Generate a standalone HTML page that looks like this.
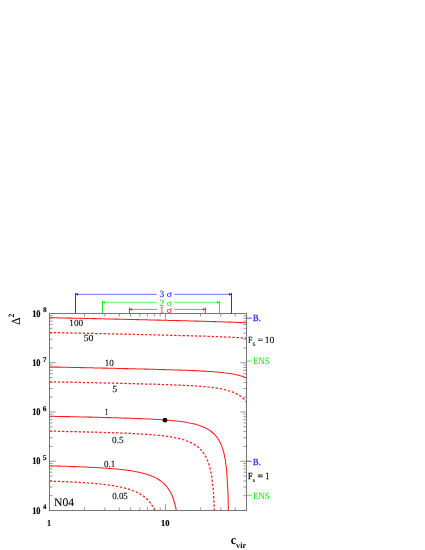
<!DOCTYPE html>
<html><head><meta charset="utf-8"><title>plot</title>
<style>html,body{margin:0;padding:0;background:#fff;width:425px;height:550px;overflow:hidden;font-family:"Liberation Serif",serif}</style>
</head><body>
<svg width="425" height="550" viewBox="0 0 425 550" style="position:absolute;left:0;top:0;will-change:transform;text-rendering:geometricPrecision">
<rect width="425" height="550" fill="#fff"/>
<path d="M84.42,510.50 v-3.10 M84.42,313.50 v3.10 M104.85,510.50 v-3.10 M104.85,313.50 v3.10 M119.34,510.50 v-3.10 M119.34,313.50 v3.10 M130.58,510.50 v-3.10 M130.58,313.50 v3.10 M139.77,510.50 v-3.10 M139.77,313.50 v3.10 M147.53,510.50 v-3.10 M147.53,313.50 v3.10 M154.26,510.50 v-3.10 M154.26,313.50 v3.10 M160.19,510.50 v-3.10 M160.19,313.50 v3.10 M165.50,510.50 v-6.20 M165.50,313.50 v6.20 M200.42,510.50 v-3.10 M200.42,313.50 v3.10 M220.85,510.50 v-3.10 M220.85,313.50 v3.10 M235.34,510.50 v-3.10 M235.34,313.50 v3.10 M246.58,510.50 v-3.10 M246.58,313.50 v3.10 M49.50,495.67 h3.10 M246.50,495.67 h-3.10 M49.50,487.00 h3.10 M246.50,487.00 h-3.10 M49.50,480.85 h3.10 M246.50,480.85 h-3.10 M49.50,476.08 h3.10 M246.50,476.08 h-3.10 M49.50,472.18 h3.10 M246.50,472.18 h-3.10 M49.50,468.88 h3.10 M246.50,468.88 h-3.10 M49.50,466.02 h3.10 M246.50,466.02 h-3.10 M49.50,463.50 h3.10 M246.50,463.50 h-3.10 M49.50,461.25 h6.20 M246.50,461.25 h-6.20 M49.50,446.42 h3.10 M246.50,446.42 h-3.10 M49.50,437.75 h3.10 M246.50,437.75 h-3.10 M49.50,431.60 h3.10 M246.50,431.60 h-3.10 M49.50,426.83 h3.10 M246.50,426.83 h-3.10 M49.50,422.93 h3.10 M246.50,422.93 h-3.10 M49.50,419.63 h3.10 M246.50,419.63 h-3.10 M49.50,416.77 h3.10 M246.50,416.77 h-3.10 M49.50,414.25 h3.10 M246.50,414.25 h-3.10 M49.50,412.00 h6.20 M246.50,412.00 h-6.20 M49.50,397.17 h3.10 M246.50,397.17 h-3.10 M49.50,388.50 h3.10 M246.50,388.50 h-3.10 M49.50,382.35 h3.10 M246.50,382.35 h-3.10 M49.50,377.58 h3.10 M246.50,377.58 h-3.10 M49.50,373.68 h3.10 M246.50,373.68 h-3.10 M49.50,370.38 h3.10 M246.50,370.38 h-3.10 M49.50,367.52 h3.10 M246.50,367.52 h-3.10 M49.50,365.00 h3.10 M246.50,365.00 h-3.10 M49.50,362.75 h6.20 M246.50,362.75 h-6.20 M49.50,347.92 h3.10 M246.50,347.92 h-3.10 M49.50,339.25 h3.10 M246.50,339.25 h-3.10 M49.50,333.10 h3.10 M246.50,333.10 h-3.10 M49.50,328.33 h3.10 M246.50,328.33 h-3.10 M49.50,324.43 h3.10 M246.50,324.43 h-3.10 M49.50,321.13 h3.10 M246.50,321.13 h-3.10 M49.50,318.27 h3.10 M246.50,318.27 h-3.10 M49.50,315.75 h3.10 M246.50,315.75 h-3.10" fill="none" stroke="#444" stroke-width="0.55"/>
<path d="M49.5,317.7 L50.7,317.7 L52.0,317.8 L53.2,317.8 L54.5,317.8 L55.7,317.8 L56.9,317.8 L58.2,317.9 L59.4,317.9 L60.7,317.9 L61.9,317.9 L63.1,318.0 L64.4,318.0 L65.6,318.0 L66.8,318.0 L68.1,318.1 L69.3,318.1 L70.6,318.1 L71.8,318.1 L73.0,318.2 L74.3,318.2 L75.5,318.2 L76.8,318.2 L78.0,318.3 L79.2,318.3 L80.5,318.3 L81.7,318.3 L83.0,318.4 L84.2,318.4 L85.4,318.4 L86.7,318.4 L87.9,318.5 L89.1,318.5 L90.4,318.5 L91.6,318.5 L92.9,318.6 L94.1,318.6 L95.3,318.6 L96.6,318.7 L97.8,318.7 L99.1,318.7 L100.3,318.7 L101.5,318.8 L102.8,318.8 L104.0,318.8 L105.3,318.9 L106.5,318.9 L107.7,318.9 L109.0,318.9 L110.2,319.0 L111.4,319.0 L112.7,319.0 L113.9,319.0 L115.2,319.1 L116.4,319.1 L117.6,319.1 L118.9,319.2 L120.1,319.2 L121.4,319.2 L122.6,319.2 L123.8,319.3 L125.1,319.3 L126.3,319.3 L127.6,319.4 L128.8,319.4 L130.0,319.4 L131.3,319.5 L132.5,319.5 L133.8,319.5 L135.0,319.5 L136.2,319.6 L137.5,319.6 L138.7,319.6 L139.9,319.7 L141.2,319.7 L142.4,319.7 L143.7,319.7 L144.9,319.8 L146.1,319.8 L147.4,319.8 L148.6,319.9 L149.9,319.9 L151.1,319.9 L152.3,320.0 L153.6,320.0 L154.8,320.0 L156.1,320.0 L157.3,320.1 L158.5,320.1 L159.8,320.1 L161.0,320.2 L162.2,320.2 L163.5,320.2 L164.7,320.3 L166.0,320.3 L167.2,320.3 L168.4,320.4 L169.7,320.4 L170.9,320.4 L172.2,320.4 L173.4,320.5 L174.6,320.5 L175.9,320.5 L177.1,320.6 L178.4,320.6 L179.6,320.6 L180.8,320.7 L182.1,320.7 L183.3,320.7 L184.6,320.8 L185.8,320.8 L187.0,320.8 L188.3,320.9 L189.5,320.9 L190.7,320.9 L192.0,321.0 L193.2,321.0 L194.5,321.0 L195.7,321.1 L196.9,321.1 L198.2,321.1 L199.4,321.2 L200.7,321.2 L201.9,321.2 L203.1,321.3 L204.4,321.3 L205.6,321.3 L206.9,321.4 L208.1,321.4 L209.3,321.4 L210.6,321.5 L211.8,321.5 L213.0,321.6 L214.3,321.6 L215.5,321.6 L216.8,321.7 L218.0,321.7 L219.2,321.7 L220.5,321.8 L221.7,321.8 L223.0,321.9 L224.2,321.9 L225.4,322.0 L226.7,322.0 L227.9,322.0 L229.2,322.1 L230.4,322.1 L231.6,322.2 L232.9,322.2 L234.1,322.3 L235.3,322.3 L236.6,322.4 L237.8,322.4 L239.1,322.5 L240.3,322.6 L241.5,322.6 L242.8,322.7 L244.0,322.7 L245.3,322.8 L246.5,322.9" fill="none" stroke="#ff1c1c" stroke-width="1.05"/>
<path d="M49.5,332.6 L50.7,332.6 L52.0,332.6 L53.2,332.6 L54.5,332.6 L55.7,332.6 L56.9,332.7 L58.2,332.7 L59.4,332.7 L60.7,332.7 L61.9,332.8 L63.1,332.8 L64.4,332.8 L65.6,332.8 L66.8,332.9 L68.1,332.9 L69.3,332.9 L70.6,332.9 L71.8,333.0 L73.0,333.0 L74.3,333.0 L75.5,333.0 L76.8,333.1 L78.0,333.1 L79.2,333.1 L80.5,333.1 L81.7,333.2 L83.0,333.2 L84.2,333.2 L85.4,333.2 L86.7,333.3 L87.9,333.3 L89.1,333.3 L90.4,333.3 L91.6,333.4 L92.9,333.4 L94.1,333.4 L95.3,333.5 L96.6,333.5 L97.8,333.5 L99.1,333.5 L100.3,333.6 L101.5,333.6 L102.8,333.6 L104.0,333.7 L105.3,333.7 L106.5,333.7 L107.7,333.7 L109.0,333.8 L110.2,333.8 L111.4,333.8 L112.7,333.8 L113.9,333.9 L115.2,333.9 L116.4,333.9 L117.6,334.0 L118.9,334.0 L120.1,334.0 L121.4,334.0 L122.6,334.1 L123.8,334.1 L125.1,334.1 L126.3,334.2 L127.6,334.2 L128.8,334.2 L130.0,334.3 L131.3,334.3 L132.5,334.3 L133.8,334.3 L135.0,334.4 L136.2,334.4 L137.5,334.4 L138.7,334.5 L139.9,334.5 L141.2,334.5 L142.4,334.5 L143.7,334.6 L144.9,334.6 L146.1,334.6 L147.4,334.7 L148.6,334.7 L149.9,334.7 L151.1,334.8 L152.3,334.8 L153.6,334.8 L154.8,334.9 L156.1,334.9 L157.3,334.9 L158.5,334.9 L159.8,335.0 L161.0,335.0 L162.2,335.0 L163.5,335.1 L164.7,335.1 L166.0,335.1 L167.2,335.2 L168.4,335.2 L169.7,335.2 L170.9,335.3 L172.2,335.3 L173.4,335.3 L174.6,335.4 L175.9,335.4 L177.1,335.4 L178.4,335.4 L179.6,335.5 L180.8,335.5 L182.1,335.5 L183.3,335.6 L184.6,335.6 L185.8,335.6 L187.0,335.7 L188.3,335.7 L189.5,335.8 L190.7,335.8 L192.0,335.8 L193.2,335.9 L194.5,335.9 L195.7,335.9 L196.9,336.0 L198.2,336.0 L199.4,336.0 L200.7,336.1 L201.9,336.1 L203.1,336.2 L204.4,336.2 L205.6,336.2 L206.9,336.3 L208.1,336.3 L209.3,336.3 L210.6,336.4 L211.8,336.4 L213.0,336.5 L214.3,336.5 L215.5,336.6 L216.8,336.6 L218.0,336.7 L219.2,336.7 L220.5,336.8 L221.7,336.8 L223.0,336.9 L224.2,336.9 L225.4,337.0 L226.7,337.0 L227.9,337.1 L229.2,337.1 L230.4,337.2 L231.6,337.3 L232.9,337.3 L234.1,337.4 L235.3,337.5 L236.6,337.5 L237.8,337.6 L239.1,337.7 L240.3,337.8 L241.5,337.9 L242.8,338.0 L244.0,338.1 L245.3,338.2 L246.5,338.3" fill="none" stroke="#ff1c1c" stroke-width="1.25" stroke-dasharray="2.4,1.76"/>
<path d="M49.5,367.0 L50.7,367.0 L52.0,367.0 L53.2,367.0 L54.5,367.1 L55.7,367.1 L56.9,367.1 L58.2,367.1 L59.4,367.1 L60.7,367.2 L61.9,367.2 L63.1,367.2 L64.4,367.2 L65.6,367.3 L66.8,367.3 L68.1,367.3 L69.3,367.3 L70.6,367.4 L71.8,367.4 L73.0,367.4 L74.3,367.4 L75.5,367.5 L76.8,367.5 L78.0,367.5 L79.2,367.5 L80.5,367.6 L81.7,367.6 L83.0,367.6 L84.2,367.6 L85.4,367.7 L86.7,367.7 L87.9,367.7 L89.1,367.8 L90.4,367.8 L91.6,367.8 L92.9,367.8 L94.1,367.9 L95.3,367.9 L96.6,367.9 L97.8,367.9 L99.1,368.0 L100.3,368.0 L101.5,368.0 L102.8,368.1 L104.0,368.1 L105.3,368.1 L106.5,368.1 L107.7,368.2 L109.0,368.2 L110.2,368.2 L111.4,368.3 L112.7,368.3 L113.9,368.3 L115.2,368.3 L116.4,368.4 L117.6,368.4 L118.9,368.4 L120.1,368.5 L121.4,368.5 L122.6,368.5 L123.8,368.6 L125.1,368.6 L126.3,368.6 L127.6,368.6 L128.8,368.7 L130.0,368.7 L131.3,368.7 L132.5,368.8 L133.8,368.8 L135.0,368.8 L136.2,368.9 L137.5,368.9 L138.7,368.9 L139.9,368.9 L141.2,369.0 L142.4,369.0 L143.7,369.0 L144.9,369.1 L146.1,369.1 L147.4,369.1 L148.6,369.2 L149.9,369.2 L151.1,369.2 L152.3,369.3 L153.6,369.3 L154.8,369.3 L156.1,369.4 L157.3,369.4 L158.5,369.4 L159.8,369.5 L161.0,369.5 L162.2,369.5 L163.5,369.6 L164.7,369.6 L166.0,369.7 L167.2,369.7 L168.4,369.7 L169.7,369.8 L170.9,369.8 L172.2,369.8 L173.4,369.9 L174.6,369.9 L175.9,370.0 L177.1,370.0 L178.4,370.0 L179.6,370.1 L180.8,370.1 L182.1,370.2 L183.3,370.2 L184.6,370.3 L185.8,370.3 L187.0,370.3 L188.3,370.4 L189.5,370.4 L190.7,370.5 L192.0,370.5 L193.2,370.6 L194.5,370.6 L195.7,370.7 L196.9,370.8 L198.2,370.8 L199.4,370.9 L200.7,370.9 L201.9,371.0 L203.1,371.1 L204.4,371.1 L205.6,371.2 L206.9,371.3 L208.1,371.4 L209.3,371.4 L210.6,371.5 L211.8,371.6 L213.0,371.7 L214.3,371.8 L215.5,371.9 L216.8,372.0 L218.0,372.1 L219.2,372.2 L220.5,372.4 L221.7,372.5 L223.0,372.6 L224.2,372.8 L225.4,372.9 L226.7,373.1 L227.9,373.2 L229.2,373.4 L230.4,373.6 L231.6,373.8 L232.9,374.1 L234.1,374.3 L235.3,374.5 L236.6,374.8 L237.8,375.1 L239.1,375.4 L240.3,375.8 L241.5,376.1 L242.8,376.5 L244.0,377.0 L245.3,377.5 L246.5,378.0" fill="none" stroke="#ff1c1c" stroke-width="1.05"/>
<path d="M49.5,381.8 L50.7,381.8 L52.0,381.8 L53.2,381.9 L54.5,381.9 L55.7,381.9 L56.9,381.9 L58.2,382.0 L59.4,382.0 L60.7,382.0 L61.9,382.0 L63.1,382.0 L64.4,382.1 L65.6,382.1 L66.8,382.1 L68.1,382.1 L69.3,382.2 L70.6,382.2 L71.8,382.2 L73.0,382.2 L74.3,382.3 L75.5,382.3 L76.8,382.3 L78.0,382.3 L79.2,382.4 L80.5,382.4 L81.7,382.4 L83.0,382.5 L84.2,382.5 L85.4,382.5 L86.7,382.5 L87.9,382.6 L89.1,382.6 L90.4,382.6 L91.6,382.6 L92.9,382.7 L94.1,382.7 L95.3,382.7 L96.6,382.8 L97.8,382.8 L99.1,382.8 L100.3,382.8 L101.5,382.9 L102.8,382.9 L104.0,382.9 L105.3,383.0 L106.5,383.0 L107.7,383.0 L109.0,383.0 L110.2,383.1 L111.4,383.1 L112.7,383.1 L113.9,383.2 L115.2,383.2 L116.4,383.2 L117.6,383.3 L118.9,383.3 L120.1,383.3 L121.4,383.3 L122.6,383.4 L123.8,383.4 L125.1,383.4 L126.3,383.5 L127.6,383.5 L128.8,383.5 L130.0,383.6 L131.3,383.6 L132.5,383.6 L133.8,383.7 L135.0,383.7 L136.2,383.7 L137.5,383.8 L138.7,383.8 L139.9,383.8 L141.2,383.9 L142.4,383.9 L143.7,383.9 L144.9,384.0 L146.1,384.0 L147.4,384.0 L148.6,384.1 L149.9,384.1 L151.1,384.1 L152.3,384.2 L153.6,384.2 L154.8,384.2 L156.1,384.3 L157.3,384.3 L158.5,384.4 L159.8,384.4 L161.0,384.4 L162.2,384.5 L163.5,384.5 L164.7,384.6 L166.0,384.6 L167.2,384.6 L168.4,384.7 L169.7,384.7 L170.9,384.8 L172.2,384.8 L173.4,384.9 L174.6,384.9 L175.9,385.0 L177.1,385.0 L178.4,385.1 L179.6,385.1 L180.8,385.2 L182.1,385.2 L183.3,385.3 L184.6,385.3 L185.8,385.4 L187.0,385.5 L188.3,385.5 L189.5,385.6 L190.7,385.7 L192.0,385.7 L193.2,385.8 L194.5,385.9 L195.7,386.0 L196.9,386.1 L198.2,386.1 L199.4,386.2 L200.7,386.3 L201.9,386.4 L203.1,386.5 L204.4,386.6 L205.6,386.8 L206.9,386.9 L208.1,387.0 L209.3,387.1 L210.6,387.3 L211.8,387.4 L213.0,387.6 L214.3,387.7 L215.5,387.9 L216.8,388.1 L218.0,388.3 L219.2,388.5 L220.5,388.7 L221.7,389.0 L223.0,389.2 L224.2,389.5 L225.4,389.8 L226.7,390.1 L227.9,390.5 L229.2,390.9 L230.4,391.3 L231.6,391.7 L232.9,392.2 L234.1,392.7 L235.3,393.2 L236.6,393.9 L237.8,394.5 L239.1,395.3 L240.3,396.1 L241.5,397.0 L242.8,398.0 L244.0,399.2 L245.3,400.5 L246.5,402.0" fill="none" stroke="#ff1c1c" stroke-width="1.25" stroke-dasharray="2.4,1.76"/>
<path d="M49.5,416.3 L50.7,416.3 L52.0,416.3 L53.2,416.3 L54.5,416.3 L55.7,416.4 L56.9,416.4 L58.2,416.4 L59.4,416.4 L60.7,416.5 L61.9,416.5 L63.1,416.5 L64.4,416.5 L65.6,416.6 L66.8,416.6 L68.1,416.6 L69.3,416.6 L70.6,416.7 L71.8,416.7 L73.0,416.7 L74.3,416.7 L75.5,416.8 L76.8,416.8 L78.0,416.8 L79.2,416.9 L80.5,416.9 L81.7,416.9 L83.0,416.9 L84.2,417.0 L85.4,417.0 L86.7,417.0 L87.9,417.1 L89.1,417.1 L90.4,417.1 L91.6,417.1 L92.9,417.2 L94.1,417.2 L95.3,417.2 L96.6,417.3 L97.8,417.3 L99.1,417.3 L100.3,417.4 L101.5,417.4 L102.8,417.4 L104.0,417.5 L105.3,417.5 L106.5,417.5 L107.7,417.6 L109.0,417.6 L110.2,417.6 L111.4,417.7 L112.7,417.7 L113.9,417.7 L115.2,417.8 L116.4,417.8 L117.6,417.8 L118.9,417.9 L120.1,417.9 L121.4,418.0 L122.6,418.0 L123.8,418.0 L125.1,418.1 L126.3,418.1 L127.6,418.2 L128.8,418.2 L130.0,418.2 L131.3,418.3 L132.5,418.3 L133.8,418.4 L135.0,418.4 L136.2,418.5 L137.5,418.5 L138.7,418.6 L139.9,418.6 L141.2,418.7 L142.4,418.7 L143.7,418.8 L144.9,418.8 L146.1,418.9 L147.4,418.9 L148.6,419.0 L149.9,419.0 L151.1,419.1 L152.3,419.2 L153.6,419.2 L154.8,419.3 L156.1,419.4 L157.3,419.4 L158.5,419.5 L159.8,419.6 L161.0,419.7 L162.2,419.8 L163.5,419.8 L164.7,419.9 L166.0,420.0 L167.2,420.1 L168.4,420.2 L169.7,420.3 L170.9,420.4 L172.2,420.5 L173.4,420.7 L174.6,420.8 L175.9,420.9 L177.1,421.1 L178.4,421.2 L179.6,421.3 L180.8,421.5 L182.1,421.7 L183.3,421.8 L184.6,422.0 L185.8,422.2 L187.0,422.4 L188.3,422.7 L189.5,422.9 L190.7,423.2 L192.0,423.4 L193.2,423.7 L194.5,424.0 L195.7,424.3 L196.9,424.7 L198.2,425.1 L199.4,425.5 L200.7,425.9 L201.9,426.4 L203.1,426.9 L204.4,427.4 L205.6,428.0 L206.9,428.7 L208.1,429.4 L209.3,430.1 L210.6,431.0 L211.8,432.0 L213.0,433.0 L214.3,434.2 L215.5,435.5 L216.8,437.1 L218.0,438.8 L219.2,440.8 L220.5,443.2 L221.7,446.1 L223.0,449.7 L224.2,454.3 L225.4,460.6 L226.7,470.4 L227.9,491.2 L228.0,493.1 L228.0,495.1 L228.1,497.4 L228.2,500.0 L228.2,503.0 L228.3,506.4 L228.3,510.5" fill="none" stroke="#ff1c1c" stroke-width="1.05"/>
<path d="M49.5,431.1 L50.7,431.1 L52.0,431.2 L53.2,431.2 L54.5,431.2 L55.7,431.2 L56.9,431.3 L58.2,431.3 L59.4,431.3 L60.7,431.3 L61.9,431.4 L63.1,431.4 L64.4,431.4 L65.6,431.4 L66.8,431.5 L68.1,431.5 L69.3,431.5 L70.6,431.6 L71.8,431.6 L73.0,431.6 L74.3,431.6 L75.5,431.7 L76.8,431.7 L78.0,431.7 L79.2,431.8 L80.5,431.8 L81.7,431.8 L83.0,431.9 L84.2,431.9 L85.4,431.9 L86.7,431.9 L87.9,432.0 L89.1,432.0 L90.4,432.0 L91.6,432.1 L92.9,432.1 L94.1,432.1 L95.3,432.2 L96.6,432.2 L97.8,432.3 L99.1,432.3 L100.3,432.3 L101.5,432.4 L102.8,432.4 L104.0,432.4 L105.3,432.5 L106.5,432.5 L107.7,432.6 L109.0,432.6 L110.2,432.6 L111.4,432.7 L112.7,432.7 L113.9,432.8 L115.2,432.8 L116.4,432.8 L117.6,432.9 L118.9,432.9 L120.1,433.0 L121.4,433.0 L122.6,433.1 L123.8,433.1 L125.1,433.2 L126.3,433.2 L127.6,433.3 L128.8,433.3 L130.0,433.4 L131.3,433.5 L132.5,433.5 L133.8,433.6 L135.0,433.6 L136.2,433.7 L137.5,433.8 L138.7,433.8 L139.9,433.9 L141.2,434.0 L142.4,434.0 L143.7,434.1 L144.9,434.2 L146.1,434.3 L147.4,434.4 L148.6,434.5 L149.9,434.5 L151.1,434.6 L152.3,434.7 L153.6,434.8 L154.8,435.0 L156.1,435.1 L157.3,435.2 L158.5,435.3 L159.8,435.4 L161.0,435.6 L162.2,435.7 L163.5,435.8 L164.7,436.0 L166.0,436.2 L167.2,436.3 L168.4,436.5 L169.7,436.7 L170.9,436.9 L172.2,437.1 L173.4,437.3 L174.6,437.6 L175.9,437.8 L177.1,438.1 L178.4,438.4 L179.6,438.7 L180.8,439.0 L182.1,439.3 L183.3,439.7 L184.6,440.1 L185.8,440.5 L187.0,441.0 L188.3,441.4 L189.5,442.0 L190.7,442.5 L192.0,443.2 L193.2,443.8 L194.5,444.6 L195.7,445.4 L196.9,446.3 L198.2,447.3 L199.4,448.4 L200.7,449.6 L201.9,451.0 L203.1,452.5 L204.4,454.3 L205.6,456.4 L206.9,458.9 L208.1,461.9 L209.3,465.5 L210.6,470.3 L211.8,476.9 L213.0,487.4 L213.2,489.4 L213.4,491.7 L213.6,494.3 L213.7,497.3 L213.9,500.9 L214.1,505.1 L214.3,510.5" fill="none" stroke="#ff1c1c" stroke-width="1.25" stroke-dasharray="2.4,1.76"/>
<path d="M49.5,465.9 L50.7,465.9 L52.0,465.9 L53.2,466.0 L54.5,466.0 L55.7,466.0 L56.9,466.0 L58.2,466.1 L59.4,466.1 L60.7,466.2 L61.9,466.2 L63.1,466.2 L64.4,466.3 L65.6,466.3 L66.8,466.3 L68.1,466.4 L69.3,466.4 L70.6,466.5 L71.8,466.5 L73.0,466.6 L74.3,466.6 L75.5,466.6 L76.8,466.7 L78.0,466.7 L79.2,466.8 L80.5,466.8 L81.7,466.9 L83.0,466.9 L84.2,467.0 L85.4,467.0 L86.7,467.1 L87.9,467.2 L89.1,467.2 L90.4,467.3 L91.6,467.3 L92.9,467.4 L94.1,467.5 L95.3,467.5 L96.6,467.6 L97.8,467.7 L99.1,467.7 L100.3,467.8 L101.5,467.9 L102.8,468.0 L104.0,468.0 L105.3,468.1 L106.5,468.2 L107.7,468.3 L109.0,468.4 L110.2,468.5 L111.4,468.6 L112.7,468.7 L113.9,468.8 L115.2,468.9 L116.4,469.0 L117.6,469.1 L118.9,469.3 L120.1,469.4 L121.4,469.5 L122.6,469.7 L123.8,469.8 L125.1,470.0 L126.3,470.1 L127.6,470.3 L128.8,470.5 L130.0,470.6 L131.3,470.8 L132.5,471.0 L133.8,471.2 L135.0,471.5 L136.2,471.7 L137.5,471.9 L138.7,472.2 L139.9,472.5 L141.2,472.7 L142.4,473.1 L143.7,473.4 L144.9,473.7 L146.1,474.1 L147.4,474.5 L148.6,474.9 L149.9,475.3 L151.1,475.8 L152.3,476.3 L153.6,476.8 L154.8,477.4 L156.1,478.1 L157.3,478.8 L158.5,479.5 L159.8,480.3 L161.0,481.2 L162.2,482.2 L163.5,483.2 L164.7,484.4 L166.0,485.7 L167.2,487.2 L168.4,488.9 L169.7,490.9 L170.9,493.1 L172.2,495.8 L173.4,499.0 L174.6,503.0 L175.9,508.3 L175.9,508.6 L176.0,508.9 L176.1,509.2 L176.1,509.5 L176.2,509.8 L176.2,510.2 L176.3,510.5" fill="none" stroke="#ff1c1c" stroke-width="1.05"/>
<path d="M49.5,481.1 L50.7,481.1 L52.0,481.2 L53.2,481.2 L54.5,481.3 L55.7,481.3 L56.9,481.3 L58.2,481.4 L59.4,481.4 L60.7,481.5 L61.9,481.5 L63.1,481.6 L64.4,481.6 L65.6,481.7 L66.8,481.7 L68.1,481.8 L69.3,481.9 L70.6,481.9 L71.8,482.0 L73.0,482.0 L74.3,482.1 L75.5,482.2 L76.8,482.2 L78.0,482.3 L79.2,482.4 L80.5,482.5 L81.7,482.5 L83.0,482.6 L84.2,482.7 L85.4,482.8 L86.7,482.9 L87.9,483.0 L89.1,483.0 L90.4,483.1 L91.6,483.2 L92.9,483.3 L94.1,483.5 L95.3,483.6 L96.6,483.7 L97.8,483.8 L99.1,483.9 L100.3,484.0 L101.5,484.2 L102.8,484.3 L104.0,484.4 L105.3,484.6 L106.5,484.7 L107.7,484.9 L109.0,485.1 L110.2,485.3 L111.4,485.4 L112.7,485.6 L113.9,485.8 L115.2,486.0 L116.4,486.3 L117.6,486.5 L118.9,486.7 L120.1,487.0 L121.4,487.2 L122.6,487.5 L123.8,487.8 L125.1,488.1 L126.3,488.5 L127.6,488.8 L128.8,489.2 L130.0,489.6 L131.3,490.0 L132.5,490.5 L133.8,491.0 L135.0,491.5 L136.2,492.0 L137.5,492.6 L138.7,493.2 L139.9,493.9 L141.2,494.7 L142.4,495.5 L143.7,496.3 L144.9,497.3 L146.1,498.4 L147.4,499.5 L148.6,500.8 L149.9,502.3 L151.1,503.9 L152.3,505.8 L153.6,507.9 L154.8,510.4 L154.8,510.4 L154.8,510.4 L154.8,510.4 L154.8,510.5 L154.8,510.5 L154.8,510.5 L154.9,510.5" fill="none" stroke="#ff1c1c" stroke-width="1.25" stroke-dasharray="2.4,1.76"/>
<rect x="49.50" y="313.50" width="197.00" height="197.00" fill="none" stroke="#777777" stroke-width="1"/>
<circle cx="165.00" cy="420.20" r="2.35" fill="#000"/>
<path d="M75.50,313.50 V292.90 M231.50,313.50 V292.90" fill="none" stroke="#2020ff" stroke-width="0.95"/><path d="M75.50,294.30 H156.80 M174.20,294.30 H231.50" fill="none" stroke="#2020ff" stroke-width="0.65"/>
<path d="M102.50,313.50 V300.90 M219.50,313.50 V300.90" fill="none" stroke="#10f010" stroke-width="0.95"/><path d="M102.50,302.30 H156.80 M174.20,302.30 H219.50" fill="none" stroke="#10f010" stroke-width="0.65"/>
<path d="M129.5,313.50 V307.6 M205.4,307.6 V313.50" fill="none" stroke="#ff1c1c" stroke-width="0.95"/>
<path d="M129.5,309.4 H157.4 M174.2,309.4 H205.4" fill="none" stroke="#ff1c1c" stroke-width="0.65"/>
<path d="M75.50,294.30 l2.6,-1.4 v2.8 z M231.50,294.30 l-2.6,-1.4 v2.8 z" fill="#2020ff" stroke="none"/>
<path d="M102.50,302.30 l2.6,-1.4 v2.8 z M219.50,302.30 l-2.6,-1.4 v2.8 z" fill="#10f010" stroke="none"/>
<path d="M129.50,309.40 l2.6,-1.4 v2.8 z M205.40,309.40 l-2.6,-1.4 v2.8 z" fill="#ff1c1c" stroke="none"/>
<path d="M246.50,318.2 H251.8 M246.50,461.2 H251.8" stroke="#2020ff" stroke-width="0.8" fill="none"/>
<path d="M246.50,361.0 H251.8 M246.50,495.3 H251.8" stroke="#10f010" stroke-width="0.8" fill="none"/>
<text transform="translate(69.32,326.30) scale(0.990,1)" font-family="Liberation Serif, serif" font-size="9.30" fill="#000" stroke="#000" stroke-width="0.08">100</text>
<text transform="translate(83.67,341.40) scale(1.040,1)" font-family="Liberation Serif, serif" font-size="9.30" fill="#000" stroke="#000" stroke-width="0.08">50</text>
<text transform="translate(104.74,366.20) scale(0.965,1)" font-family="Liberation Serif, serif" font-size="9.30" fill="#000" stroke="#000" stroke-width="0.08">10</text>
<text transform="translate(112.14,392.10) scale(1.060,1)" font-family="Liberation Serif, serif" font-size="9.30" fill="#000" stroke="#000" stroke-width="0.08">5</text>
<text transform="translate(104.85,415.10) scale(0.800,1)" font-family="Liberation Serif, serif" font-size="9.30" fill="#000" stroke="#000" stroke-width="0.08">1</text>
<text transform="translate(112.08,442.70) scale(0.993,1)" font-family="Liberation Serif, serif" font-size="9.30" fill="#000" stroke="#000" stroke-width="0.08">0.5</text>
<text transform="translate(104.08,466.80) scale(0.968,1)" font-family="Liberation Serif, serif" font-size="9.30" fill="#000" stroke="#000" stroke-width="0.08">0.1</text>
<text transform="translate(112.19,499.10) scale(0.960,1)" font-family="Liberation Serif, serif" font-size="9.30" fill="#000" stroke="#000" stroke-width="0.08">0.05</text>
<text transform="translate(54.01,505.90) scale(1.014,1)" font-family="Liberation Serif, serif" font-size="11.50" fill="#000" stroke="#000" stroke-width="0.08">N04</text>
<text transform="translate(159.57,297.20) scale(1.024,1)" font-family="Liberation Serif, serif" font-size="9.30" fill="#2020ff" stroke="#2020ff" stroke-width="0.08">3</text>
<text transform="translate(166.64,297.20) scale(1.060,1)" font-family="Liberation Serif, serif" font-size="9.30" fill="#2020ff" stroke="#2020ff" stroke-width="0.08">σ</text>
<text transform="translate(159.61,305.60) scale(1.060,1)" font-family="Liberation Serif, serif" font-size="9.30" fill="#10f010" stroke="#10f010" stroke-width="0.08">2</text>
<text transform="translate(166.64,305.60) scale(1.060,1)" font-family="Liberation Serif, serif" font-size="9.30" fill="#10f010" stroke="#10f010" stroke-width="0.08">σ</text>
<text transform="translate(160.10,312.70) scale(0.800,1)" font-family="Liberation Serif, serif" font-size="9.30" fill="#ff1c1c" stroke="#ff1c1c" stroke-width="0.08">1</text>
<text transform="translate(166.64,312.70) scale(1.060,1)" font-family="Liberation Serif, serif" font-size="9.30" fill="#ff1c1c" stroke="#ff1c1c" stroke-width="0.08">σ</text>
<text transform="translate(253.09,320.90) scale(0.899,1)" font-family="Liberation Serif, serif" font-size="9.30" fill="#2020ff" stroke="#2020ff" stroke-width="0.3">B.</text>
<text transform="translate(253.09,464.90) scale(0.899,1)" font-family="Liberation Serif, serif" font-size="9.30" fill="#2020ff" stroke="#2020ff" stroke-width="0.3">B.</text>
<text transform="translate(253.08,364.00) scale(0.947,1)" font-family="Liberation Serif, serif" font-size="9.30" fill="#10f010" stroke="#10f010" stroke-width="0.08">ENS</text>
<text transform="translate(253.08,498.50) scale(0.947,1)" font-family="Liberation Serif, serif" font-size="9.30" fill="#10f010" stroke="#10f010" stroke-width="0.08">ENS</text>
<text transform="translate(248.00,342.70) scale(0.869,1)" font-family="Liberation Serif, serif" font-size="9.30" fill="#000" stroke="#000" stroke-width="0.08">F</text>
<text transform="translate(252.60,345.80) scale(1.060,1)" font-family="Liberation Serif, serif" font-size="7.40" fill="#000" stroke="#000" stroke-width="0.08">s</text>
<text transform="translate(257.62,342.70) scale(1.060,1)" font-family="Liberation Serif, serif" font-size="9.30" fill="#000" stroke="#000" stroke-width="0.08">=</text>
<text transform="translate(264.79,342.70) scale(1.026,1)" font-family="Liberation Serif, serif" font-size="9.30" fill="#000" stroke="#000" stroke-width="0.08">10</text>
<text transform="translate(248.00,479.10) scale(0.869,1)" font-family="Liberation Serif, serif" font-size="9.30" fill="#000" stroke="#000" stroke-width="0.25">F</text>
<text transform="translate(252.85,481.60) scale(1.060,1)" font-family="Liberation Serif, serif" font-size="5.50" fill="#000" stroke="#000" stroke-width="0.1">s</text>
<text transform="translate(257.47,479.10) scale(1.060,1)" font-family="Liberation Serif, serif" font-size="9.30" fill="#000" stroke="#000" stroke-width="0.25">=</text>
<text transform="translate(265.45,479.10) scale(0.800,1)" font-family="Liberation Serif, serif" font-size="9.30" fill="#000" stroke="#000" stroke-width="0.25">1</text>
<text transform="translate(32.13,513.70) scale(0.836,1)" font-family="Liberation Serif, serif" font-size="10.00" fill="#000" font-weight="bold" stroke="#000" stroke-width="0.15">10</text>
<text transform="translate(43.03,509.40) scale(0.923,1)" font-family="Liberation Serif, serif" font-size="7.30" fill="#000" font-weight="bold" stroke="#000" stroke-width="0.15">4</text>
<text transform="translate(32.13,464.45) scale(0.836,1)" font-family="Liberation Serif, serif" font-size="10.00" fill="#000" font-weight="bold" stroke="#000" stroke-width="0.15">10</text>
<text transform="translate(42.80,460.15) scale(1.031,1)" font-family="Liberation Serif, serif" font-size="7.30" fill="#000" font-weight="bold" stroke="#000" stroke-width="0.15">5</text>
<text transform="translate(32.13,415.20) scale(0.836,1)" font-family="Liberation Serif, serif" font-size="10.00" fill="#000" font-weight="bold" stroke="#000" stroke-width="0.15">10</text>
<text transform="translate(42.84,410.90) scale(1.008,1)" font-family="Liberation Serif, serif" font-size="7.30" fill="#000" font-weight="bold" stroke="#000" stroke-width="0.15">6</text>
<text transform="translate(32.13,365.95) scale(0.836,1)" font-family="Liberation Serif, serif" font-size="10.00" fill="#000" font-weight="bold" stroke="#000" stroke-width="0.15">10</text>
<text transform="translate(42.68,361.65) scale(1.044,1)" font-family="Liberation Serif, serif" font-size="7.30" fill="#000" font-weight="bold" stroke="#000" stroke-width="0.15">7</text>
<text transform="translate(32.13,316.70) scale(0.836,1)" font-family="Liberation Serif, serif" font-size="10.00" fill="#000" font-weight="bold" stroke="#000" stroke-width="0.15">10</text>
<text transform="translate(42.88,312.40) scale(0.996,1)" font-family="Liberation Serif, serif" font-size="7.30" fill="#000" font-weight="bold" stroke="#000" stroke-width="0.15">8</text>
<text transform="translate(47.34,525.80) scale(0.800,1)" font-family="Liberation Serif, serif" font-size="9.00" fill="#000" font-weight="bold" stroke="#000" stroke-width="0.2">1</text>
<text transform="translate(161.12,525.90) scale(0.942,1)" font-family="Liberation Serif, serif" font-size="9.00" fill="#000" font-weight="bold" stroke="#000" stroke-width="0.2">10</text>
<text transform="translate(230.68,543.90) scale(0.941,1)" font-family="Liberation Serif, serif" font-size="12.70" fill="#000" font-weight="bold">c</text>
<text transform="translate(236.10,547.60) scale(1.002,1)" font-family="Liberation Serif, serif" font-size="8.20" fill="#000" font-weight="bold">vir</text>
<text transform="translate(20.0,325.11) rotate(-90) scale(0.963,1)" font-family="Liberation Serif, serif" font-size="12.20" fill="#000" stroke="#000" stroke-width="0.1">Δ</text>
<text transform="translate(13.6,317.60) rotate(-90) scale(0.929,1)" font-family="Liberation Serif, serif" font-size="8.20" font-weight="bold" fill="#000">2</text>
</svg>
</body></html>
